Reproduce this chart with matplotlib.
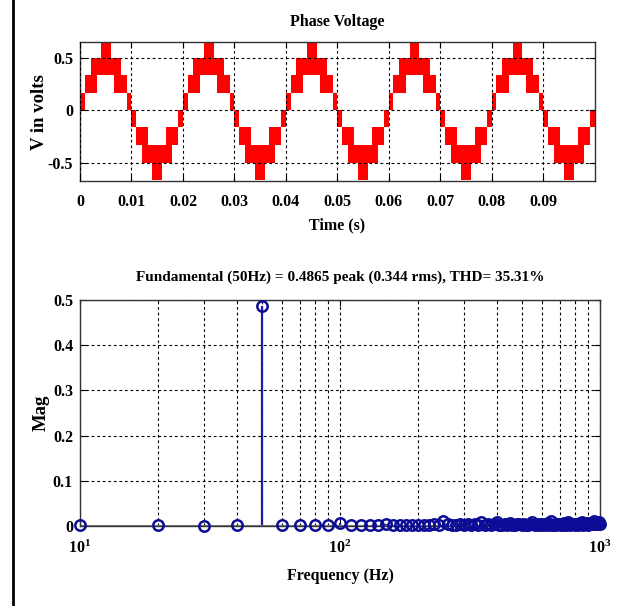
import numpy as np
import matplotlib
matplotlib.use("Agg")
import matplotlib.pyplot as plt
from matplotlib.lines import Line2D

plt.rcParams['font.family'] = ['Liberation Serif', 'DejaVu Serif']
plt.rcParams['font.weight'] = 'bold'
plt.rcParams['mathtext.fontset'] = 'custom'
plt.rcParams['mathtext.rm'] = 'Liberation Serif:bold'
plt.rcParams['mathtext.bf'] = 'Liberation Serif:bold'

# staircase phase voltage: bands of one positive half cycle (ms), mirrored for negative half
levels = [0.0, 0.16, 0.33, 0.5, 0.67]
band_start_ms = [0.0, 9.1, 0.9, 6.7, 2.05, 4.05]
band_end_ms = [0.9, 10.0, 3.3, 9.1, 7.95, 5.95]
band_level = [0, 0, 1, 1, 2, 3]   # band spans levels[i] .. levels[i+1]
half_period = 0.01
n_half = 10

time_ticks = [0, 0.01, 0.02, 0.03, 0.04, 0.05, 0.06, 0.07, 0.08, 0.09]
time_labels = ['0', '0.01', '0.02', '0.03', '0.04', '0.05', '0.06', '0.07', '0.08', '0.09']

# FFT harmonics, 10 Hz resolution
freqs = list(range(10, 1010, 10))
mags = [0.002, 0.003, 0.0005, 0.003, 0.4865, 0.003, 0.003, 0.003, 0.003, 0.006,
        0.002, 0.002, 0.003, 0.002, 0.004, 0.002, 0.003, 0.002, 0.003, 0.002,
        0.003, 0.002, 0.004, 0.003, 0.012, 0.004, 0.003, 0.002, 0.004, 0.003,
        0.005, 0.002, 0.004, 0.003, 0.008, 0.002, 0.004, 0.003, 0.005, 0.008,
        0.003, 0.002, 0.004, 0.003, 0.007, 0.002, 0.003, 0.004, 0.005, 0.003,
        0.004, 0.002, 0.003, 0.004, 0.009, 0.003, 0.004, 0.002, 0.005, 0.003,
        0.004, 0.003, 0.006, 0.002, 0.010, 0.003, 0.004, 0.003, 0.005, 0.004,
        0.003, 0.002, 0.006, 0.003, 0.009, 0.004, 0.003, 0.005, 0.004, 0.003,
        0.005, 0.003, 0.004, 0.006, 0.008, 0.003, 0.005, 0.004, 0.006, 0.003,
        0.005, 0.004, 0.006, 0.005, 0.011, 0.004, 0.006, 0.005, 0.009, 0.004]

title_top = 'Phase Voltage'
title_bot = 'Fundamental (50Hz) = 0.4865 peak (0.344 rms), THD= 35.31%'

grid_kw = dict(color='black', linestyle=(0, (2.5, 2.5)), linewidth=0.8)

fig = plt.figure(figsize=(6.28, 6.06), dpi=100)

# ---- top: phase voltage ----
ax1 = fig.add_axes([80/628, 1 - 181/606, (594.7-80)/628, (181-42.3)/606])
for k in range(n_half):
    sign = 1 if k % 2 == 0 else -1
    for s, e, lv in zip(band_start_ms, band_end_ms, band_level):
        lo, hi = levels[lv], levels[lv + 1]
        left = k * half_period + s / 1000
        width = (e - s) / 1000
        bottom = lo if sign > 0 else -hi
        ax1.bar(left, hi - lo, width=width, bottom=bottom, align='edge',
                color='#ff0000', linewidth=0)
ax1.set_xlim(0, 0.1)
ax1.set_ylim(-0.675, 0.645)
ax1.set_xticks(time_ticks)
ax1.set_xticklabels(time_labels)
ax1.set_yticks([-0.5, 0, 0.5])
ax1.set_yticklabels(['-0.5', '0', '0.5'])
ax1.grid(True, **grid_kw)
ax1.set_axisbelow(False)
ax1.tick_params(direction='in', top=True, right=True, length=4, labelsize=11.5, pad=9)
ax1.set_title(title_top, fontsize=11.5, fontweight='bold', pad=12)
ax1.set_xlabel('Time (s)', fontsize=11.5, fontweight='bold', labelpad=6)
ax1.set_ylabel('V in volts', fontsize=13.5, fontweight='bold', labelpad=0)
ax1.tick_params(axis='y', pad=5)

# ---- bottom: spectrum ----
ax2 = fig.add_axes([80/628, 1 - 526/606, 520/628, (526-300)/606])
ml, sl, bl = ax2.stem(freqs, mags, linefmt='-', markerfmt='o', basefmt='-')
plt.setp(sl, color='#1c1ca8', linewidth=1.6)
plt.setp(ml, color='#0c0c96', markerfacecolor='none', markersize=7.5,
         markeredgewidth=1.8, clip_on=False, zorder=5)
plt.setp(bl, color='#808080', linewidth=1.5)
ax2.set_xscale('log')
ax2.set_xlim(10, 1000)
ax2.set_ylim(0, 0.5)
ax2.set_yticks([0, 0.1, 0.2, 0.3, 0.4, 0.5])
ax2.set_yticklabels(['0', '0.1', '0.2', '0.3', '0.4', '0.5'])
ax2.set_xticks([10, 100, 1000])
ax2.set_xticklabels([r'$\mathregular{10^{1}}$', r'$\mathregular{10^{2}}$',
                     r'$\mathregular{10^{3}}$'])
ax2.minorticks_on()
ax2.yaxis.set_minor_locator(matplotlib.ticker.NullLocator())
ax2.xaxis.set_minor_formatter(matplotlib.ticker.NullFormatter())
ax2.grid(True, which='both', **grid_kw)
ax2.tick_params(which='both', direction='in', top=True, right=True, labelsize=11.5)
ax2.tick_params(axis='x', which='major', length=4, pad=10)
ax2.tick_params(axis='x', which='minor', length=2)
ax2.tick_params(axis='y', length=4, pad=5)
ax2.set_title(title_bot, fontsize=11, fontweight='bold', pad=14)
ax2.set_xlabel('Frequency (Hz)', fontsize=11.5, fontweight='bold', labelpad=8)
ax2.set_ylabel('Mag', fontsize=13.5, fontweight='bold', labelpad=2)

for ax in (ax1, ax2):
    for sp in ax.spines.values():
        sp.set_color('#333333')
        sp.set_linewidth(1.0)

fig.add_artist(Line2D([13/628, 13/628], [0, 1], color='black', linewidth=2))

fig.savefig('out.png', dpi=100)
